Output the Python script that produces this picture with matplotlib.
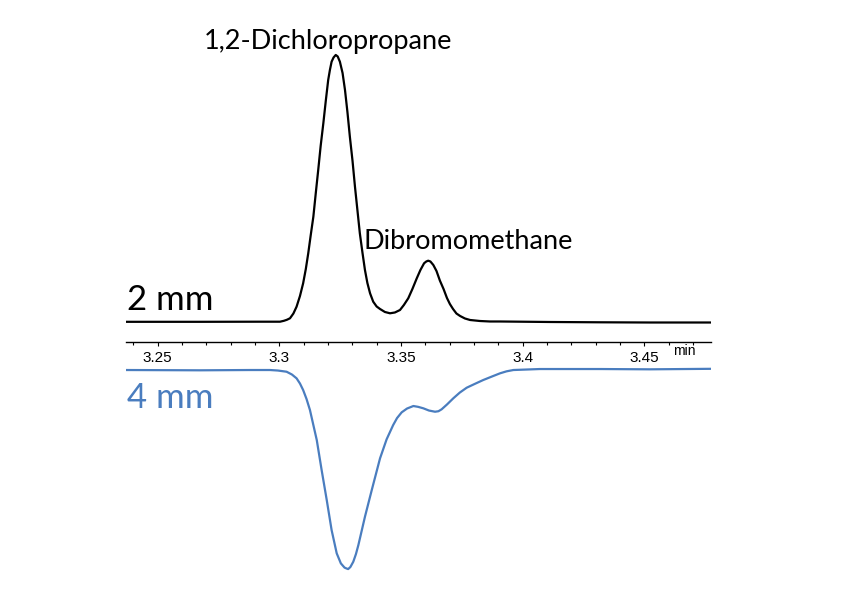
import matplotlib
matplotlib.use('Agg')
import matplotlib.pyplot as plt
from matplotlib.ticker import MultipleLocator

# Tempo de retencao (min) e sinal - coluna de 2 mm (traco preto)
t_2mm = [3.2370, 3.2674, 3.2920, 3.3003, 3.3019, 3.3031, 3.3044, 3.3058, 3.3071,
         3.3085, 3.3098, 3.3109, 3.3119, 3.3129, 3.3140, 3.3150, 3.3160, 3.3170,
         3.3181, 3.3191, 3.3201, 3.3208, 3.3215, 3.3223, 3.3232, 3.3240, 3.3249,
         3.3260, 3.3270, 3.3280, 3.3290, 3.3301, 3.3311, 3.3321, 3.3331, 3.3342,
         3.3352, 3.3362, 3.3373, 3.3386, 3.3400, 3.3414, 3.3434, 3.3455, 3.3475,
         3.3496, 3.3512, 3.3530, 3.3547, 3.3565, 3.3580, 3.3595, 3.3604, 3.3612,
         3.3621, 3.3633, 3.3646, 3.3660, 3.3675, 3.3689, 3.3701, 3.3714, 3.3728,
         3.3743, 3.3763, 3.3784, 3.3825, 3.3866, 3.3907, 3.4112, 3.4318, 3.4523,
         3.4774]
sinal_2mm = [0.07, 0.07, 0.11, 0.11, 0.45, 0.82, 1.39, 3.18, 5.73,
             9.74, 14.49, 19.85, 25.73, 32.40, 39.44, 48.31, 56.93, 65.92,
             74.42, 82.77, 90.64, 94.38, 97.49, 99.06, 100.0, 99.44, 97.49,
             93.26, 86.89, 78.65, 69.40, 60.30, 50.67, 41.95, 33.22, 25.84,
             19.48, 14.61, 10.75, 7.60, 5.81, 4.87, 3.75, 3.26, 3.56,
             4.49, 6.37, 8.88, 12.36, 16.37, 19.48, 21.99, 22.66, 22.96,
             22.66, 21.35, 19.10, 15.50, 12.36, 8.99, 6.74, 4.87, 3.18,
             2.25, 1.31, 0.75, 0.37, 0.19, 0.19, 0.0, -0.11, -0.19,
             -0.19]

# Coluna de 4 mm (traco azul, invertido)
t_4mm = [3.2370, 3.2674, 3.2879, 3.2962, 3.2994, 3.3030, 3.3052, 3.3071, 3.3085,
         3.3098, 3.3112, 3.3126, 3.3154, 3.3174, 3.3195, 3.3215, 3.3236, 3.3253,
         3.3268, 3.3276, 3.3283, 3.3292, 3.3304, 3.3315, 3.3325, 3.3352, 3.3380,
         3.3414, 3.3441, 3.3468, 3.3484, 3.3503, 3.3525, 3.3551, 3.3570, 3.3592,
         3.3615, 3.3640, 3.3654, 3.3667, 3.3689, 3.3715, 3.3742, 3.3770, 3.3804,
         3.3838, 3.3874, 3.3907, 3.3934, 3.3962, 3.4071, 3.4318, 3.4523, 3.4774]
sinal_4mm = [0.0, -0.11, 0.0, 0.0, -0.19, -0.64, -1.69, -3.11, -5.06,
             -7.49, -10.86, -14.98, -26.22, -37.45, -48.69, -59.93, -68.65, -72.40,
             -73.97, -74.30, -74.53, -73.78, -71.80, -68.91, -65.54, -54.94, -44.94,
             -33.07, -25.96, -20.60, -17.98, -15.84, -14.42, -13.48, -13.78, -14.34,
             -15.17, -15.62, -15.43, -14.72, -12.92, -10.60, -8.43, -6.63, -5.17,
             -3.75, -2.43, -1.24, -0.49, 0.0, 0.37, 0.37, 0.26, 0.45]

picos = ['1,2-Dichloropropane', 'Dibromomethane']
colunas = ['2 mm', '4 mm']

azul = '#4a7dbf'
fonte = ['Lato', 'DejaVu Sans']

fig = plt.figure(figsize=(8.41, 5.92), dpi=100)

# Eixo de cima: traco preto e o eixo do tempo
ax1 = fig.add_axes([0.1498, 0.4228, 0.6956, 0.5096])
ax1.plot(t_2mm, sinal_2mm, color='black', lw=1.6)
ax1.set_xlim(3.2370, 3.4774)
ax1.set_ylim(-7.38, 105.6)
for s in ['top', 'left', 'right']:
    ax1.spines[s].set_visible(False)
ax1.spines['bottom'].set_linewidth(1.0)
ax1.set_yticks([])
ax1.xaxis.set_major_locator(MultipleLocator(0.05))
ax1.xaxis.set_minor_locator(MultipleLocator(0.01))
ax1.tick_params(axis='x', which='major', direction='out', length=3, width=0.8, pad=4,
                labelsize=11, labelfontfamily='Liberation Sans')
ax1.tick_params(axis='x', which='minor', direction='out', length=2, width=0.8)
ax1.set_xticks([3.25, 3.3, 3.35, 3.4, 3.45])
ax1.set_xticklabels(['3.25', '3.3', '3.35', '3.4', '3.45'])

ax1.text(3.3200, 104.9, picos[0], ha='center', va='center', fontsize=19.5,
         family=fonte, clip_on=False)
ax1.text(3.3777, 30.0, picos[1], ha='center', va='center', fontsize=19.5,
         family=fonte, clip_on=False)
ax1.text(3.2374, 4.5, colunas[0], ha='left', va='baseline', fontsize=25,
         family=fonte, color='black', clip_on=False)
ax1.text(3.4666, -10.7, 'min', ha='center', va='center', fontsize=10,
         family='Liberation Sans', clip_on=False)

# Eixo de baixo: traco azul sem eixos
ax2 = fig.add_axes([0.1498, 0.0118, 0.6956, 0.4054])
ax2.plot(t_4mm, sinal_4mm, color=azul, lw=1.6)
ax2.set_xlim(3.2370, 3.4774)
ax2.set_ylim(-80.5, 9.36)
ax2.axis('off')
ax2.text(3.2374, -14.3, colunas[1], ha='left', va='baseline', fontsize=25,
         family=fonte, color=azul, clip_on=False)

fig.savefig('out.png', dpi=100)
